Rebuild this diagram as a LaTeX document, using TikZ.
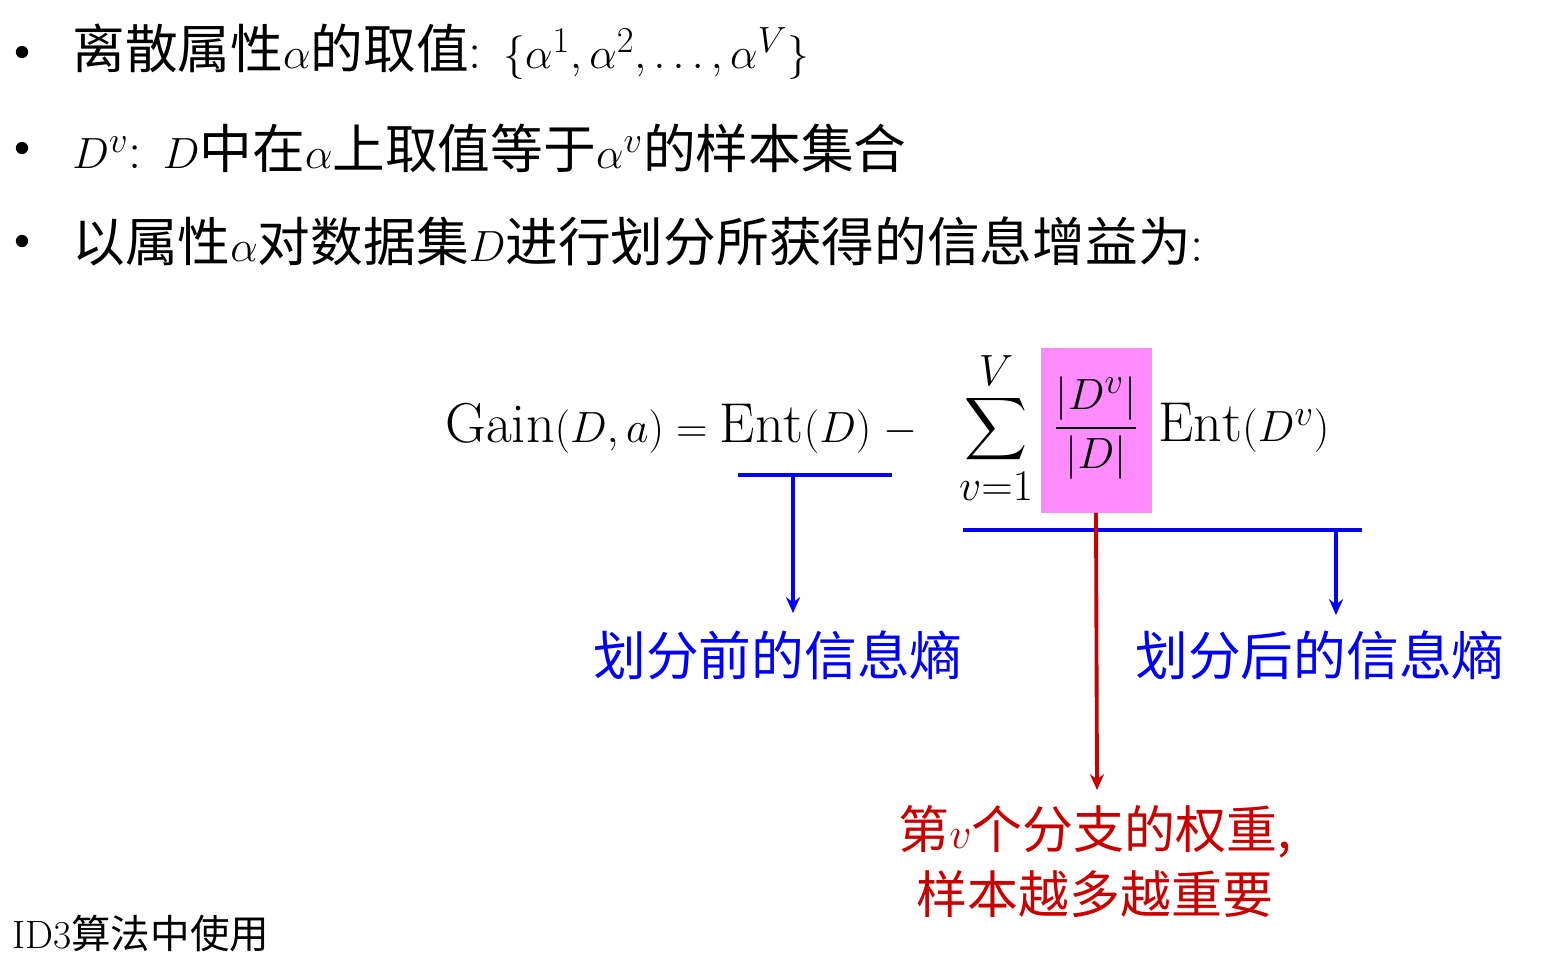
\documentclass[tikz,border=0pt]{standalone}
\usepackage{fontspec}
\usepackage{amsmath}
\usetikzlibrary{arrows.meta}
\newfontfamily\cjk{Noto Sans CJK SC}
\definecolor{mblue}{RGB}{0,0,255}
\definecolor{mred}{RGB}{200,0,0}
\definecolor{mpink}{RGB}{255,140,255}
\begin{document}
\begin{tikzpicture}[x=0.02cm,y=-0.02cm,
  btxt/.style={anchor=west,inner sep=0pt,font=\fontsize{30}{36}\selectfont},
  bul/.style={circle,fill=black,inner sep=0pt,minimum size=7pt},
  lbl/.style={inner sep=0pt,font=\cjk\fontsize{30}{36}\selectfont},
  frm/.style={inner sep=0pt,font=\fontsize{32}{38}\selectfont},
  arr/.style={line width=2.2pt,-{Stealth[length=9pt,width=8pt]}}]
\useasboundingbox (0,0) rectangle (1557,974);
\node[bul] (b1) at (22,52) {};
\node[bul] (b2) at (22,148) {};
\node[bul] (b3) at (22,241) {};
\node[btxt] (t1) at (72,52) {{\cjk 离散属性}$\alpha${\cjk 的取值}: $\{\alpha^1,\alpha^2,\dots,\alpha^V\}$};
\node[btxt] (t2) at (72,148) {$D^v$: $D${\cjk 中在}$\alpha${\cjk 上取值等于}$\alpha^v${\cjk 的样本集合}};
\node[btxt] (t3) at (72,241) {{\cjk 以属性}$\alpha${\cjk 对数据集}$D${\cjk 进行划分所获得的信息增益为}:};
% formula
\node[frm,anchor=west] (g) at (445,428) {$\mathrm{Gain}(D,a)=\mathrm{Ent}(D)\;-$};
\node[inner sep=0pt,font=\fontsize{34}{40}\selectfont] (sum) at (996,428) {$\displaystyle\sum_{v=1}^{V}$};
\node[fill=mpink,minimum width=111*0.02cm,minimum height=165*0.02cm,inner sep=0pt] (pk) at (1096,430) {};
\node[frm] (fr) at (1096,428) {$\dfrac{|D^v|}{|D|}$};
\node[frm,anchor=west] (e2) at (1158,428) {$\mathrm{Ent}(D^v)$};
% blue lines
\coordinate (l1a) at (738,475); \coordinate (l1b) at (892,475);
\draw[mblue,line width=2.2pt] (l1a) -- (l1b);
\coordinate (l1m) at (793,475);
\node[lbl,text=mblue] (lb1) at (778,655) {划分前的信息熵};
\draw[mblue,arr] (l1m) -- (793,613);
\coordinate (l2a) at (963,530); \coordinate (l2b) at (1362,530);
\draw[mblue,line width=2.2pt] (l2a) -- (l2b);
\coordinate (l2m) at (1336,530);
\node[lbl,text=mblue] (lb2) at (1320,655) {划分后的信息熵};
\draw[mblue,arr] (l2m) -- (1336,615);
% red
\node[lbl,text=mred,align=center,font=\cjk\fontsize{29}{35}\selectfont] (lb3) at (1095,862) {第$v$个分支的权重,\\[2pt]样本越多越重要};
\draw[mred,arr] (pk.south) -- (1097,790);
\node[anchor=west,inner sep=0pt,font=\fontsize{22.5}{26}\selectfont] (id3) at (12,933) {ID3{\cjk 算法中使用}};
\end{tikzpicture}
\end{document}
